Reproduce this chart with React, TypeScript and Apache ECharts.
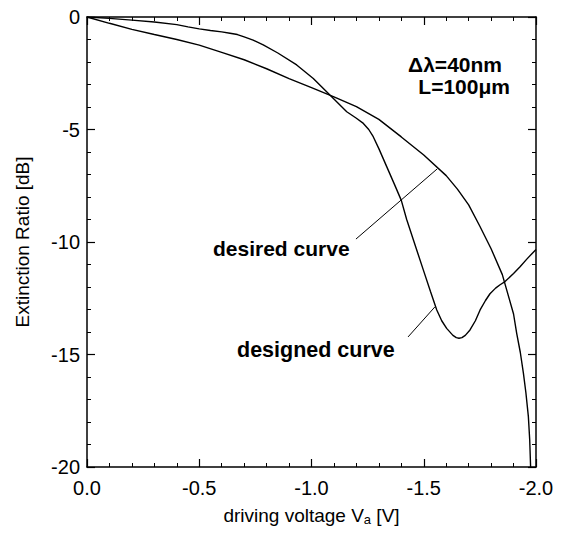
import React, { useEffect, useRef } from "react";
import * as echarts from "echarts";

// desired curve: driving voltage [V], extinction ratio [dB]
const desiredV = [0, -0.1, -0.2, -0.3, -0.4, -0.5, -0.6, -0.7, -0.8, -0.9, -1.0, -1.1, -1.2, -1.3, -1.4, -1.5, -1.6, -1.65, -1.7, -1.75, -1.8, -1.85, -1.9, -1.914, -1.93, -1.944, -1.955, -1.966, -1.972, -1.976];
const desiredDB = [0, -0.28, -0.55, -0.78, -1.0, -1.25, -1.57, -1.9, -2.3, -2.74, -3.14, -3.55, -3.98, -4.55, -5.33, -6.13, -7.05, -7.65, -8.35, -9.3, -10.3, -11.45, -13.2, -14.06, -14.9, -15.84, -16.7, -17.76, -18.8, -20];

// designed curve
const designedV = [0, -0.1, -0.2, -0.3, -0.4, -0.45, -0.5, -0.55, -0.6, -0.637, -0.67, -0.7, -0.74, -0.785, -0.85, -0.934, -1.008, -1.082, -1.157, -1.2, -1.231, -1.255, -1.275, -1.3, -1.335, -1.37, -1.4, -1.424, -1.454, -1.498, -1.53, -1.558, -1.58, -1.602, -1.63, -1.645, -1.657, -1.67, -1.685, -1.706, -1.73, -1.751, -1.775, -1.795, -1.82, -1.84, -1.862, -1.9, -1.929, -1.96, -2.0];
const designedDB = [0, -0.06, -0.14, -0.22, -0.34, -0.44, -0.53, -0.6, -0.66, -0.72, -0.78, -0.88, -1.03, -1.24, -1.6, -2.13, -2.73, -3.47, -4.21, -4.5, -4.73, -5.0, -5.32, -5.85, -6.65, -7.45, -8.15, -9.0, -9.91, -11.24, -12.2, -13.02, -13.5, -13.84, -14.15, -14.25, -14.28, -14.25, -14.15, -13.91, -13.5, -13.02, -12.6, -12.3, -12.05, -11.9, -11.76, -11.4, -11.1, -10.75, -10.33];

// pointer lines for the labels [V, dB]
const desiredPointer = [[-1.198, -9.87], [-1.56, -6.75]];
const designedPointer = [[-1.43, -14.22], [-1.55, -12.88]];

const xMin = -2;
const xMax = 0;
const xStep = 0.5;
const yMin = -20;
const yMax = 0;
const yStep = 5;

const pairs = (xs: number[], ys: number[]) => xs.map((x, i) => [x, ys[i]]);

const FONT = "Arial";

function edgeAxis(kind: "x" | "y", position: string) {
  const isX = kind === "x";
  return {
    type: "value",
    min: isX ? xMin : yMin,
    max: isX ? xMax : yMax,
    interval: isX ? xStep : yStep,
    inverse: isX,
    position,
    axisLine: { show: true, onZero: false, lineStyle: { color: "#000", width: 1.5 } },
    axisTick: { show: true, inside: true, length: 8, lineStyle: { color: "#000", width: 1.2 } },
    minorTick: { show: true, splitNumber: 5, length: 4, lineStyle: { color: "#000", width: 1 } },
    splitLine: { show: false },
    axisLabel: { show: false },
  };
}

export default function App() {
  const ref = useRef<HTMLDivElement>(null);
  useEffect(() => {
    if (!ref.current) return;
    const chart = echarts.init(ref.current, null, { renderer: "svg" });
    chart.setOption({
      animation: false,
      grid: { left: 87, top: 17, right: 26, bottom: 70 },
      xAxis: [
        {
          ...edgeAxis("x", "bottom"),
          axisLabel: {
            show: true,
            color: "#000",
            fontSize: 20,
            fontFamily: FONT,
            margin: 11,
            formatter: (v: number) => v.toFixed(1),
          },
          name: "driving voltage V{sub|a} [V]",
          nameLocation: "middle",
          nameGap: 37,
          nameTextStyle: {
            color: "#000",
            fontSize: 19,
            fontFamily: FONT,
            rich: { sub: { fontSize: 13, fontFamily: FONT, color: "#000", verticalAlign: "bottom", padding: [9, 0, 0, 0] } },
          },
        },
        edgeAxis("x", "top"),
      ],
      yAxis: [
        {
          ...edgeAxis("y", "left"),
          axisLabel: { show: true, color: "#000", fontSize: 20, fontFamily: FONT, margin: 7 },
          name: "Extinction Ratio [dB]",
          nameLocation: "middle",
          nameGap: 55,
          nameTextStyle: { color: "#000", fontSize: 19, fontFamily: FONT },
        },
        edgeAxis("y", "right"),
      ],
      series: [
        {
          type: "line",
          name: "desired curve",
          data: pairs(desiredV, desiredDB),
          symbol: "none",
          lineStyle: { color: "#000", width: 1.4 },
          markLine: {
            silent: true,
            symbol: "none",
            lineStyle: { color: "#000", width: 1, type: "solid" },
            label: { show: false },
            data: [[{ coord: desiredPointer[0] }, { coord: desiredPointer[1] }]],
          },
        },
        {
          type: "line",
          name: "designed curve",
          data: pairs(designedV, designedDB),
          symbol: "none",
          lineStyle: { color: "#000", width: 1.4 },
          markLine: {
            silent: true,
            symbol: "none",
            lineStyle: { color: "#000", width: 1, type: "solid" },
            label: { show: false },
            data: [[{ coord: designedPointer[0] }, { coord: designedPointer[1] }]],
          },
        },
      ],
      graphic: [
        {
          type: "text",
          x: 502,
          y: 64,
          style: { text: "Δλ=40nm", fontSize: 21, fontWeight: "bold", fontFamily: FONT, fill: "#000", textAlign: "right", textVerticalAlign: "middle" },
        },
        {
          type: "text",
          x: 510,
          y: 86,
          style: { text: "L=100μm", fontSize: 21, fontWeight: "bold", fontFamily: FONT, fill: "#000", textAlign: "right", textVerticalAlign: "middle" },
        },
        {
          type: "text",
          x: 213,
          y: 248,
          style: { text: "desired curve", fontSize: 21, fontWeight: "bold", fontFamily: FONT, fill: "#000", textAlign: "left", textVerticalAlign: "middle" },
        },
        {
          type: "text",
          x: 237,
          y: 350,
          style: { text: "designed curve", fontSize: 21.5, fontWeight: "bold", fontFamily: FONT, fill: "#000", textAlign: "left", textVerticalAlign: "middle" },
        },
      ],
    });
    return () => chart.dispose();
  }, []);
  return <div ref={ref} style={{ position: "fixed", left: 0, top: 0, width: 562, height: 537, background: "#fff" }} />;
}
